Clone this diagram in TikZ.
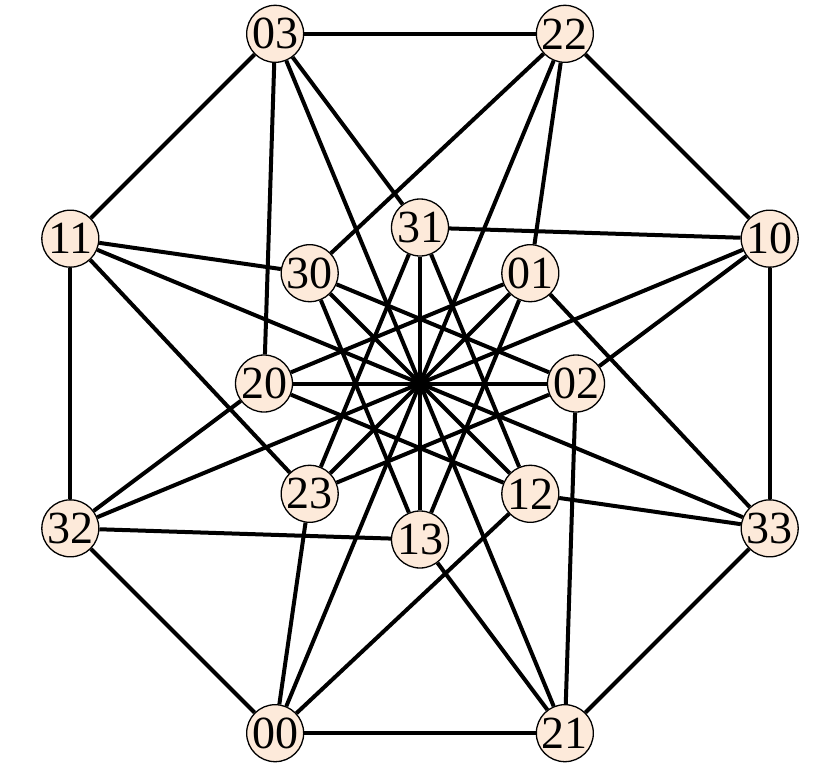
\documentclass[tikz,border=0pt]{standalone}
\usepackage{fontspec}
\setmainfont{Liberation Serif}
\usetikzlibrary{backgrounds}
\definecolor{nodefill}{RGB}{253,234,218}
\tikzset{
  vert/.style={circle,draw=black,line width=1.3pt,fill=nodefill,minimum size=57pt,inner sep=0pt,
    font=\fontsize{46}{46}\selectfont},
  edge/.style={line width=4pt,black}
}
\begin{document}
\begin{tikzpicture}[x=1pt,y=1pt]
\useasboundingbox (0,0) rectangle (840,-768);
\begin{scope}[shift={(420,-383.5)}]
% outer octagon
\node[vert] (n03) at (112.5:378.5) {03};
\node[vert] (n22) at (67.5:378.5) {22};
\node[vert] (n10) at (22.5:378.5) {10};
\node[vert] (n33) at (-22.5:378.5) {33};
\node[vert] (n21) at (-67.5:378.5) {21};
\node[vert] (n00) at (-112.5:378.5) {00};
\node[vert] (n32) at (-157.5:378.5) {32};
\node[vert] (n11) at (157.5:378.5) {11};
% inner octagon
\node[vert] (n02) at (0:156) {02};
\node[vert] (n01) at (45:156) {01};
\node[vert] (n31) at (90:156) {31};
\node[vert] (n30) at (135:156) {30};
\node[vert] (n20) at (180:156) {20};
\node[vert] (n23) at (225:156) {23};
\node[vert] (n13) at (270:156) {13};
\node[vert] (n12) at (315:156) {12};
\end{scope}
\begin{scope}[on background layer]
\fill[white] (0,0) rectangle (840,-768);
% outer cycle
\draw[edge] (n03) -- (n22);
\draw[edge] (n22) -- (n10);
\draw[edge] (n10) -- (n33);
\draw[edge] (n33) -- (n21);
\draw[edge] (n21) -- (n00);
\draw[edge] (n00) -- (n32);
\draw[edge] (n32) -- (n11);
\draw[edge] (n11) -- (n03);
% through the centre
\draw[edge] (n11) -- (n33);
\draw[edge] (n10) -- (n32);
\draw[edge] (n03) -- (n21);
\draw[edge] (n22) -- (n00);
\draw[edge] (n31) -- (n13);
\draw[edge] (n30) -- (n12);
\draw[edge] (n20) -- (n02);
\draw[edge] (n23) -- (n01);
% outer to inner
\draw[edge] (n03) -- (n20);
\draw[edge] (n03) -- (n31);
\draw[edge] (n22) -- (n30);
\draw[edge] (n22) -- (n01);
\draw[edge] (n11) -- (n30);
\draw[edge] (n11) -- (n23);
\draw[edge] (n10) -- (n31);
\draw[edge] (n10) -- (n02);
\draw[edge] (n33) -- (n12);
\draw[edge] (n33) -- (n01);
\draw[edge] (n32) -- (n20);
\draw[edge] (n32) -- (n13);
\draw[edge] (n00) -- (n23);
\draw[edge] (n00) -- (n12);
\draw[edge] (n21) -- (n02);
\draw[edge] (n21) -- (n13);
% inner to inner
\draw[edge] (n31) -- (n23);
\draw[edge] (n31) -- (n12);
\draw[edge] (n30) -- (n02);
\draw[edge] (n30) -- (n13);
\draw[edge] (n01) -- (n20);
\draw[edge] (n01) -- (n13);
\draw[edge] (n20) -- (n12);
\draw[edge] (n02) -- (n23);
\end{scope}
\end{tikzpicture}
\end{document}
